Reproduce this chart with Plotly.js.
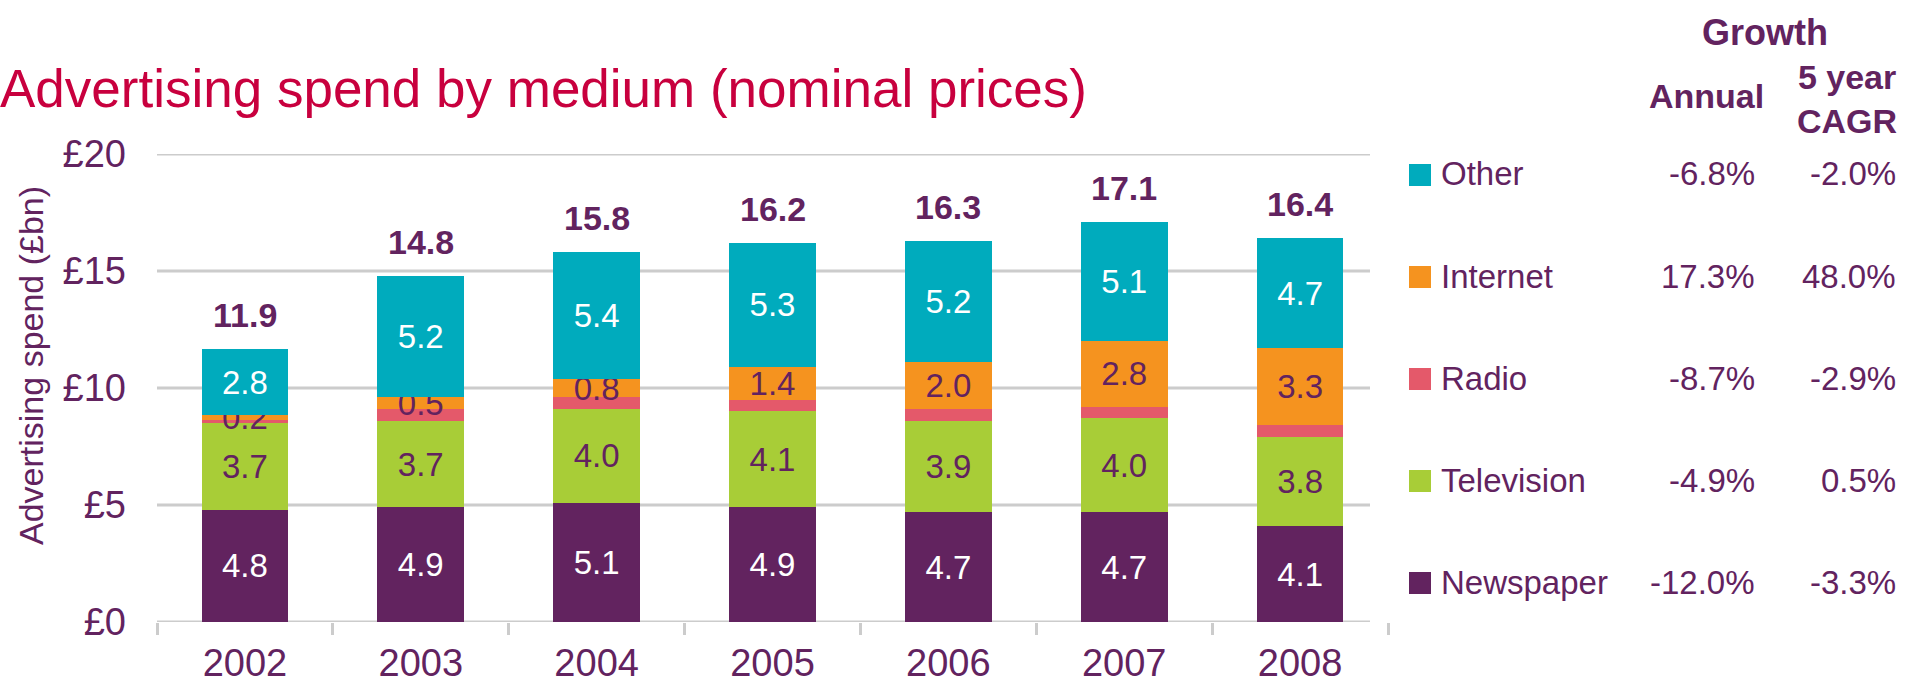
<!DOCTYPE html>
<html>
<head>
<meta charset="utf-8">
<script src="https://cdn.plot.ly/plotly-3.0.1.min.js"></script>
<style>
  html, body { margin: 0; padding: 0; background: #ffffff; }
  #chart { width: 1906px; height: 692px; }
</style>
</head>
<body>
<div id="chart"></div>
<script>
// ---- data ----
const years = ['2002', '2003', '2004', '2005', '2006', '2007', '2008'];
const newspaper = [4.8, 4.9, 5.1, 4.9, 4.7, 4.7, 4.1];
const television = [3.7, 3.7, 4.0, 4.1, 3.9, 4.0, 3.8];
const radio = [0.15, 0.5, 0.5, 0.5, 0.5, 0.5, 0.5];
const internet = [0.2, 0.5, 0.8, 1.4, 2.0, 2.8, 3.3];
const other = [2.8, 5.2, 5.4, 5.3, 5.2, 5.1, 4.7];
const totals = [11.9, 14.8, 15.8, 16.2, 16.3, 17.1, 16.4];

const mediaNames = ['Other', 'Internet', 'Radio', 'Television', 'Newspaper'];
const annualGrowth = ['-6.8%', '17.3%', '-8.7%', '-4.9%', '-12.0%'];
const cagrGrowth = ['-2.0%', '48.0%', '-2.9%', '0.5%', '-3.3%'];
const yTickVals = [0, 5, 10, 15, 20];
const yTickText = ['£0', '£5', '£10', '£15', '£20'];

// ---- styles ----
const FONT = 'Liberation Sans, Arial, Helvetica, sans-serif';
const PURPLE = '#62235f';
const GRID = '#cccccc';
const colors = {
  Newspaper: '#62235f',
  Television: '#a8cd37',
  Radio: '#e4596a',
  Internet: '#f5931f',
  Other: '#00abbd'
};
const textColors = {
  Newspaper: '#ffffff',
  Television: PURPLE,
  Radio: PURPLE,
  Internet: PURPLE,
  Other: '#ffffff'
};

function barTrace(name, values, showText) {
  return {
    type: 'bar',
    name: name,
    x: years,
    y: values,
    marker: { color: colors[name], line: { width: 0 } },
    text: showText ? values.map(v => v.toFixed(1)) : undefined,
    textposition: showText ? 'inside' : 'none',
    insidetextanchor: 'middle',
    textangle: 0,
    constraintext: 'none',
    insidetextfont: { family: FONT, size: 33, color: textColors[name] },
    hoverinfo: 'skip',
    cliponaxis: false
  };
}

const data = [
  barTrace('Newspaper', newspaper, true),
  barTrace('Television', television, true),
  barTrace('Radio', radio, false),
  barTrace('Internet', internet, true),
  barTrace('Other', other, true)
];

// stack heights (for total labels)
const stackTop = years.map((_, i) => newspaper[i] + television[i] + radio[i] + internet[i] + other[i]);

// ---- layout geometry ----
const W = 1906, H = 692;
const mL = 157, mR = 518, mT = 154, mB = 70;
const plotW = W - mL - mR, plotH = H - mT - mB;
const px2x = px => (px - mL) / plotW;
const py2y = py => (H - mB - py) / plotH;
const gridEnd = px2x(1370);

const annotations = [];
// totals above bars (category index positions)
years.forEach((yr, i) => {
  annotations.push({
    x: i, y: stackTop[i], xref: 'x', yref: 'y',
    text: '<b>' + totals[i].toFixed(1) + '</b>',
    showarrow: false, yanchor: 'bottom', xanchor: 'center', yshift: 13,
    font: { family: FONT, size: 34, color: PURPLE }
  });
});

// y-axis title
annotations.push({
  x: px2x(31), y: py2y(366), xref: 'paper', yref: 'paper',
  text: 'Advertising spend (£bn)', textangle: -90,
  showarrow: false, xanchor: 'center', yanchor: 'middle',
  font: { family: FONT, size: 34, color: PURPLE }
});

// right-hand table headers
annotations.push({
  x: px2x(1765), y: py2y(32), xref: 'paper', yref: 'paper',
  text: '<b>Growth</b>', showarrow: false, xanchor: 'center', yanchor: 'middle',
  font: { family: FONT, size: 36, color: PURPLE }
});
annotations.push({
  x: px2x(1766), y: py2y(96), xref: 'paper', yref: 'paper',
  text: '<b>Annual</b>', showarrow: false, xanchor: 'right', yanchor: 'middle',
  font: { family: FONT, size: 34, color: PURPLE }
});
annotations.push({
  x: px2x(1847), y: py2y(99), xref: 'paper', yref: 'paper',
  text: '<b>5 year</b><br><b>CAGR</b>', showarrow: false, xanchor: 'center', yanchor: 'middle',
  align: 'center',
  font: { family: FONT, size: 34, color: PURPLE }
});

const shapes = [];
// horizontal gridlines and baseline (stop short of the plot's right edge, as in the original)
yTickVals.forEach(v => {
  shapes.push({
    type: 'line', xref: 'paper', yref: 'y',
    x0: 0, x1: gridEnd, y0: v, y1: v,
    line: { color: GRID, width: 3 }, layer: 'below'
  });
});

// table rows (legend + growth figures)
const rowTop = 174, rowPitch = 102;
mediaNames.forEach((name, i) => {
  const cy = rowTop + i * rowPitch;
  shapes.push({
    type: 'rect', xref: 'paper', yref: 'paper',
    x0: px2x(1409), x1: px2x(1431), y0: py2y(cy + 12), y1: py2y(cy - 10),
    fillcolor: colors[name], line: { width: 0 }, layer: 'above'
  });
  annotations.push({
    x: px2x(1439), y: py2y(cy), xref: 'paper', yref: 'paper',
    text: name, showarrow: false, xanchor: 'left', yanchor: 'middle',
    font: { family: FONT, size: 33, color: PURPLE }
  });
  annotations.push({
    x: px2x(1757), y: py2y(cy), xref: 'paper', yref: 'paper',
    text: annualGrowth[i], showarrow: false, xanchor: 'right', yanchor: 'middle',
    font: { family: FONT, size: 33, color: PURPLE }
  });
  annotations.push({
    x: px2x(1898), y: py2y(cy), xref: 'paper', yref: 'paper',
    text: cagrGrowth[i], showarrow: false, xanchor: 'right', yanchor: 'middle',
    font: { family: FONT, size: 33, color: PURPLE }
  });
});

const layout = {
  width: W, height: H,
  margin: { l: mL, r: mR, t: mT, b: mB, pad: 0 },
  paper_bgcolor: '#ffffff',
  plot_bgcolor: '#ffffff',
  barmode: 'stack',
  bargap: 0.507,
  showlegend: false,
  font: { family: FONT, color: PURPLE },
  title: {
    text: 'Advertising spend by medium (nominal prices)',
    font: { family: FONT, size: 53, color: '#c8003e' },
    xref: 'container', yref: 'container',
    x: 0, xanchor: 'left', y: 1 - 88 / H, yanchor: 'middle',
    pad: { l: 0, r: 0, t: 0, b: 0 }
  },
  xaxis: {
    type: 'category',
    range: [-0.5, years.length - 0.5],
    autorange: false,
    showgrid: false,
    zeroline: false,
    showline: false,
    ticks: 'outside', tickson: 'boundaries', ticklen: 12, tickwidth: 3, tickcolor: GRID,
    tickfont: { family: FONT, size: 38, color: PURPLE },
    tickangle: 0,
    ticklabelstandoff: 15,
    fixedrange: true
  },
  yaxis: {
    range: [0, 20],
    autorange: false,
    tickvals: yTickVals, ticktext: yTickText,
    showgrid: false,
    zeroline: false, showline: false, ticks: '',
    tickfont: { family: FONT, size: 38, color: PURPLE },
    ticklabelstandoff: 30,
    fixedrange: true
  },
  annotations: annotations,
  shapes: shapes
};

Plotly.newPlot('chart', data, layout, { displayModeBar: false, staticPlot: true });
</script>
</body>
</html>
